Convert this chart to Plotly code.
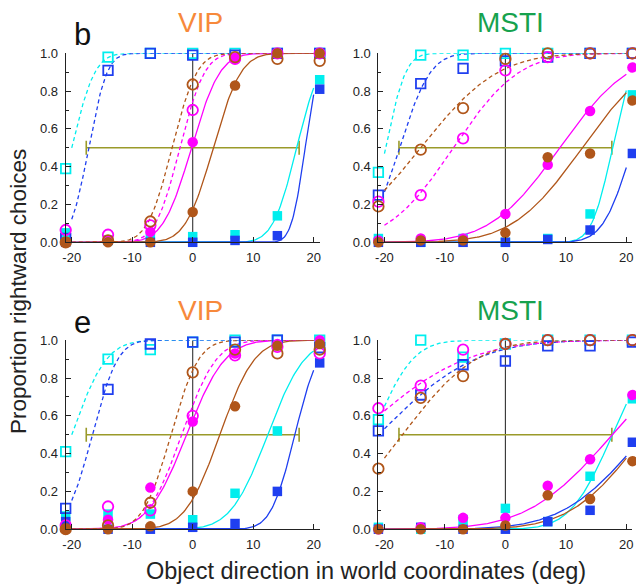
import math
import numpy as np
import plotly.graph_objects as go

# Object directions tested (deg, world coordinates)
X_DEG = [-21, -14, -7, 0, 7, 14, 21]

# Proportion of rightward choices, panel b (VIP)
B_VIP_CYAN_F = [0.05, 0.01, 0.02, 0.03, 0.04, 0.14, 0.86]
B_VIP_CYAN_O = [0.39, 0.98, 1.0, 1.0, 1.0, 1.0, 1.0]
B_VIP_BLUE_F = [0.0, 0.01, 0.0, 0.0, 0.01, 0.035, 0.81]
B_VIP_BLUE_O = [0.02, 0.91, 1.0, 0.99, 0.99, 1.0, 1.0]
B_VIP_MAG_F = [0.0, 0.01, 0.055, 0.53, 0.97, 1.0, 1.0]
B_VIP_MAG_O = [0.065, 0.04, 0.09, 0.70, 0.97, 1.0, 1.0]
B_VIP_BRN_F = [0.0, 0.0, 0.0, 0.16, 0.83, 1.0, 1.0]
B_VIP_BRN_O = [0.0, 0.01, 0.11, 0.835, 0.98, 0.97, 0.96]

# Panel b (MSTI)
B_MST_CYAN_F = [0.02, 0.0, 0.02, 0.0, 0.02, 0.15, 0.78]
B_MST_CYAN_O = [0.37, 0.99, 0.99, 1.0, 1.0, 1.0, 1.0]
B_MST_BLUE_F = [0.0, 0.0, 0.0, 0.0, 0.015, 0.065, 0.47]
B_MST_BLUE_O = [0.25, 0.84, 0.92, 0.96, 0.98, 1.0, 1.0]
B_MST_MAG_F = [0.01, 0.02, 0.02, 0.15, 0.41, 0.695, 0.925]
B_MST_MAG_O = [0.215, 0.25, 0.55, 0.91, 0.98, 1.0, 1.0]
B_MST_BRN_F = [0.0, 0.01, 0.01, 0.05, 0.45, 0.47, 0.75]
B_MST_BRN_O = [0.19, 0.49, 0.71, 0.97, 1.0, 1.0, 1.0]

# Panel e (VIP)
E_VIP_CYAN_F = [0.07, 0.08, 0.08, 0.05, 0.19, 0.52, 0.98]
E_VIP_CYAN_O = [0.41, 0.90, 0.95, 0.99, 1.0, 1.0, 1.0]
E_VIP_BLUE_F = [0.04, 0.0, 0.0, 0.01, 0.03, 0.20, 0.88]
E_VIP_BLUE_O = [0.11, 0.74, 0.98, 0.99, 0.99, 1.0, 0.96]
E_VIP_MAG_F = [0.0, 0.05, 0.22, 0.57, 0.93, 0.98, 1.0]
E_VIP_MAG_O = [0.02, 0.12, 0.10, 0.60, 0.92, 0.965, 0.93]
E_VIP_BRN_F = [0.0, 0.0, 0.015, 0.20, 0.65, 0.97, 0.98]
E_VIP_BRN_O = [0.0, 0.02, 0.14, 0.83, 0.95, 0.93, 0.95]

# Panel e (MSTI)
E_MST_CYAN_F = [0.01, 0.0, 0.05, 0.11, 0.04, 0.28, 0.69]
E_MST_CYAN_O = [0.58, 1.0, 0.91, 0.98, 1.0, 1.0, 1.0]
E_MST_BLUE_F = [0.0, 0.01, 0.0, 0.0, 0.04, 0.10, 0.46]
E_MST_BLUE_O = [0.52, 0.71, 0.87, 0.89, 0.97, 0.97, 0.99]
E_MST_MAG_F = [0.0, 0.01, 0.06, 0.06, 0.23, 0.37, 0.71]
E_MST_MAG_O = [0.64, 0.76, 0.95, 0.98, 1.0, 1.0, 1.0]
E_MST_BRN_F = [0.0, 0.0, 0.0, 0.02, 0.18, 0.16, 0.36]
E_MST_BRN_O = [0.32, 0.695, 0.81, 0.98, 1.0, 1.0, 1.0]

# Cumulative-Gaussian fits: (PSE, sigma) per condition, same order as the data
B_VIP_FITS = [(17.2, 3.1), (-20.0, 3.0), (18.6, 1.8), (-17.2, 2.4),
              (-0.2, 3.7), (-2.1, 3.2), (3.4, 3.6), (-3.4, 3.2)]
B_MST_FITS = [(17.7, 2.7), (-19.8, 2.6), (21.0, 3.8), (-17.5, 4.0),
              (9.0, 9.0), (-8.6, 8.5), (12.7, 9.0), (-14.0, 10.0)]
E_VIP_FITS = [(12.4, 4.8), (-20.0, 4.5), (16.9, 3.1), (-16.6, 3.3),
              (-1.0, 5.0), (-1.8, 4.5), (4.5, 4.5), (-3.6, 3.6)]
E_MST_FITS = [(17.7, 5.5), (-22.0, 5.2), (23.0, 10.5), (-21.0, 12.5),
              (17.7, 11.0), (-24.5, 14.0), (23.0, 9.5), (-17.0, 9.5)]

# Reference line and horizontal range bar
ZERO_DIR = 0.0
BAR_CENTER = 0.0
BAR_HALF = 17.6
BAR_LEVEL = 0.5

FIT_RANGE = (-20, 20)
PANEL_TITLES = ["VIP", "MSTI", "VIP", "MSTI"]
PANEL_LETTERS = ["b", "e"]

CYAN = "#00EEEE"
BLUE = "#1F3FF0"
MAGENTA = "#FF00FF"
BROWN = "#B0561A"
OLIVE = "#9A9A2A"
VIP_COLOR = "#F7893B"
MST_COLOR = "#16A24E"
FONT = "Liberation Sans, Arial, sans-serif"

# (color, marker symbol, dashed?)
STYLES = [
    (CYAN, "square", False), (CYAN, "square-open", True),
    (BLUE, "square", False), (BLUE, "square-open", True),
    (MAGENTA, "circle", False), (MAGENTA, "circle-open", True),
    (BROWN, "circle", False), (BROWN, "circle-open", True),
]

PANELS = [
    ([B_VIP_CYAN_F, B_VIP_CYAN_O, B_VIP_BLUE_F, B_VIP_BLUE_O,
      B_VIP_MAG_F, B_VIP_MAG_O, B_VIP_BRN_F, B_VIP_BRN_O], B_VIP_FITS),
    ([B_MST_CYAN_F, B_MST_CYAN_O, B_MST_BLUE_F, B_MST_BLUE_O,
      B_MST_MAG_F, B_MST_MAG_O, B_MST_BRN_F, B_MST_BRN_O], B_MST_FITS),
    ([E_VIP_CYAN_F, E_VIP_CYAN_O, E_VIP_BLUE_F, E_VIP_BLUE_O,
      E_VIP_MAG_F, E_VIP_MAG_O, E_VIP_BRN_F, E_VIP_BRN_O], E_VIP_FITS),
    ([E_MST_CYAN_F, E_MST_CYAN_O, E_MST_BLUE_F, E_MST_BLUE_O,
      E_MST_MAG_F, E_MST_MAG_O, E_MST_BRN_F, E_MST_BRN_O], E_MST_FITS),
]

W, H = 636, 584
# plot-area placement in pixels: (x_left, x_right, y_top, y_bottom)
BOXES = [
    (65.7, 319.7, 53.3, 242.3),
    (378.4, 632.4, 53.3, 242.3),
    (65.7, 319.7, 340.2, 529.2),
    (378.4, 632.4, 340.2, 529.2),
]


def norm_cdf(x, mu, sigma):
    return np.array([0.5 * (1.0 + math.erf((v - mu) / (sigma * math.sqrt(2)))) for v in x])


fig = go.Figure()
xs_fit = np.linspace(FIT_RANGE[0], FIT_RANGE[1], 241)

for p, (series, fits) in enumerate(PANELS):
    xa = "x" if p == 0 else f"x{p + 1}"
    ya = "y" if p == 0 else f"y{p + 1}"

    # vertical reference at straight ahead
    fig.add_trace(go.Scatter(
        x=[ZERO_DIR, ZERO_DIR], y=[0, 1], mode="lines",
        line=dict(color="#333333", width=1.1), xaxis=xa, yaxis=ya,
        showlegend=False, hoverinfo="skip", cliponaxis=False))

    # horizontal range bar
    fig.add_trace(go.Scatter(
        x=[BAR_CENTER], y=[BAR_LEVEL], mode="markers",
        marker=dict(size=1, color=OLIVE),
        error_x=dict(type="constant", value=BAR_HALF, color=OLIVE,
                     thickness=1.6, width=7),
        xaxis=xa, yaxis=ya, showlegend=False, hoverinfo="skip"))

    # fitted psychometric curves
    for (mu, sd), (col, sym, dashed) in zip(fits, STYLES):
        fig.add_trace(go.Scatter(
            x=xs_fit, y=norm_cdf(xs_fit, mu, sd), mode="lines",
            line=dict(color=col, width=1.3, dash="4px,3px" if dashed else "solid"),
            xaxis=xa, yaxis=ya, showlegend=False, hoverinfo="skip",
            cliponaxis=False))

    # data points
    for vals, (col, sym, dashed) in zip(series, STYLES):
        openm = sym.endswith("open")
        fig.add_trace(go.Scatter(
            x=X_DEG, y=vals, mode="markers",
            marker=dict(symbol=sym, size=9.5 if sym.startswith("square") else 10.5,
                        color=col, line=dict(color=col, width=1.8 if openm else 0)),
            xaxis=xa, yaxis=ya, showlegend=False, cliponaxis=False))

layout = dict(
    width=W, height=H, margin=dict(l=0, r=0, t=0, b=0, autoexpand=False),
    paper_bgcolor="white", plot_bgcolor="white",
    font=dict(family=FONT, color="#222222"),
)

for p, (x0, x1, yt, yb) in enumerate(BOXES):
    xk = "xaxis" if p == 0 else f"xaxis{p + 1}"
    yk = "yaxis" if p == 0 else f"yaxis{p + 1}"
    xa = "x" if p == 0 else f"x{p + 1}"
    ya = "y" if p == 0 else f"y{p + 1}"
    layout[xk] = dict(
        domain=[x0 / W, x1 / W], range=[-21, 21], anchor=ya, automargin=False,
        showline=True, linecolor="#222222", linewidth=1.1,
        ticks="inside", ticklen=5, tickcolor="#222222",
        tickvals=[-20, -10, 0, 10, 20], ticktext=["-20", "-10", "0", "10", "20"],
        tickfont=dict(size=13, family=FONT, color="#222222"),
        showgrid=False, zeroline=False, ticklabelstandoff=3,
    )
    layout[yk] = dict(
        domain=[1 - yb / H, 1 - yt / H], range=[0, 1.0], anchor=xa, automargin=False,
        showline=True, linecolor="#222222", linewidth=1.1,
        ticks="inside", ticklen=5, tickcolor="#222222",
        tickvals=[0, 0.2, 0.4, 0.6, 0.8, 1.0],
        ticktext=["0.0", "0.2", "0.4", "0.6", "0.8", "1.0"],
        minor=dict(ticks="inside", ticklen=3, dtick=0.1, tickcolor="#222222"),
        tickfont=dict(size=13, family=FONT, color="#222222"),
        showgrid=False, zeroline=False, ticklabelstandoff=4,
    )

fig.update_layout(**layout)


def label(px, py, text, size, color, angle=0):
    fig.add_annotation(x=px / W, y=1 - py / H, xref="paper", yref="paper",
                       xanchor="center", yanchor="middle", text=text,
                       textangle=angle, showarrow=False,
                       font=dict(size=size, family=FONT, color=color))


# panel titles and letters
title_pos = [(200, 22), (510, 22), (200, 310), (510, 310)]
for t, (tx, ty) in zip(PANEL_TITLES, title_pos):
    label(tx, ty, t, 28, VIP_COLOR if t == "VIP" else MST_COLOR)
for letter, ly in zip(PANEL_LETTERS, [35, 322]):
    label(82, ly, letter, 31, "#111111")

label(18, 292, "Proportion rightward choices", 22.5, "#222222", angle=-90)
label(366, 571, "Object direction in world coordinates (deg)", 23.5, "#222222")

fig.write_html("out.html")
